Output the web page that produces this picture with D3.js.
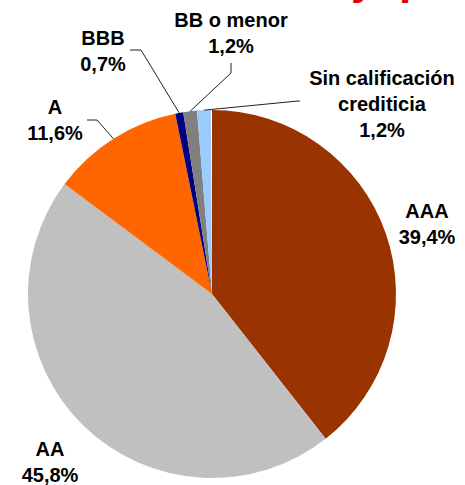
<!DOCTYPE html>
<html>
<head>
<meta charset="utf-8">
<script src="https://cdn.jsdelivr.net/npm/d3@7"></script>
<style>
  html, body { margin: 0; padding: 0; background: #fff; }
  #chart { width: 465px; height: 485px; }
  text { font-family: "Liberation Sans", Arial, sans-serif; font-weight: bold; }
</style>
</head>
<body>
<div id="chart"></div>
<script>
// data
const categories = ["AAA", "AA", "A", "BBB", "BB o menor", "Sin calificación crediticia"];
const shares = [39.4, 45.8, 11.6, 0.7, 1.2, 1.2];
const shareLabels = ["39,4%", "45,8%", "11,6%", "0,7%", "1,2%", "1,2%"];
const colors = ["#993300", "#c0c0c0", "#ff6600", "#000080", "#808080", "#99ccff"];

// label lines (split category names) and their anchor points
const labelLines = [["AAA"], ["AA"], ["A"], ["BBB"], ["BB o menor"], ["Sin calificación", "crediticia"]];
const labelPos = [[427, 218], [50, 456], [55, 114], [103, 45], [231, 27], [382, 85]];
// leader lines: start + elbow, end goes to the slice edge (null = no leader)
const leaders = [null, null, [[87, 120], [97, 120]], [[130, 50], [141, 50]], [[231, 63], [231, 73]], [[300, 101], [298, 101]]];

const W = 465, H = 485;
const cx = 212, cy = 294, r = 184;
const lineH = 26;

const svg = d3.select("#chart").append("svg")
    .attr("width", W)
    .attr("height", H);

// cut-off title at the top of the slide
const title = svg.append("text")
    .attr("y", -6)
    .attr("fill", "#e00000")
    .attr("font-size", 44);
title.append("tspan").attr("x", 351).text("y");
title.append("tspan").attr("x", 399).text("p");

const data = categories.map((c, i) => ({name: c, value: shares[i], label: shareLabels[i], color: colors[i], idx: i}));

const pie = d3.pie()
    .sort(null)
    .value(d => d.value)
    .startAngle(0)
    .endAngle(2 * Math.PI * d3.sum(shares) / 100);

const arc = d3.arc().innerRadius(0).outerRadius(r);

const g = svg.append("g").attr("transform", `translate(${cx},${cy})`);

const arcs = pie(data);

g.selectAll("path.slice")
    .data(arcs)
    .enter()
    .append("path")
    .attr("class", "slice")
    .attr("d", arc)
    .attr("fill", d => d.data.color);

// leader lines
arcs.forEach(a => {
    let lead = leaders[a.data.idx];
    if (!lead) return;
    let mid = (a.startAngle + a.endAngle) / 2;
    let ex = cx + r * Math.sin(mid);
    let ey = cy - r * Math.cos(mid);
    let pts = lead.concat([[ex, ey]]);
    svg.append("path")
        .attr("d", d3.line()(pts))
        .attr("fill", "none")
        .attr("stroke", "#222")
        .attr("stroke-width", 1);
});

// labels
data.forEach((d, i) => {
    let lines = labelLines[i].concat([d.label]);
    let t = svg.append("text")
        .attr("text-anchor", "middle")
        .attr("font-size", 20)
        .attr("fill", "#000");
    lines.forEach((ln, k) => {
        t.append("tspan")
            .attr("x", labelPos[i][0])
            .attr("y", labelPos[i][1] + k * lineH)
            .text(ln);
    });
});
</script>
</body>
</html>
